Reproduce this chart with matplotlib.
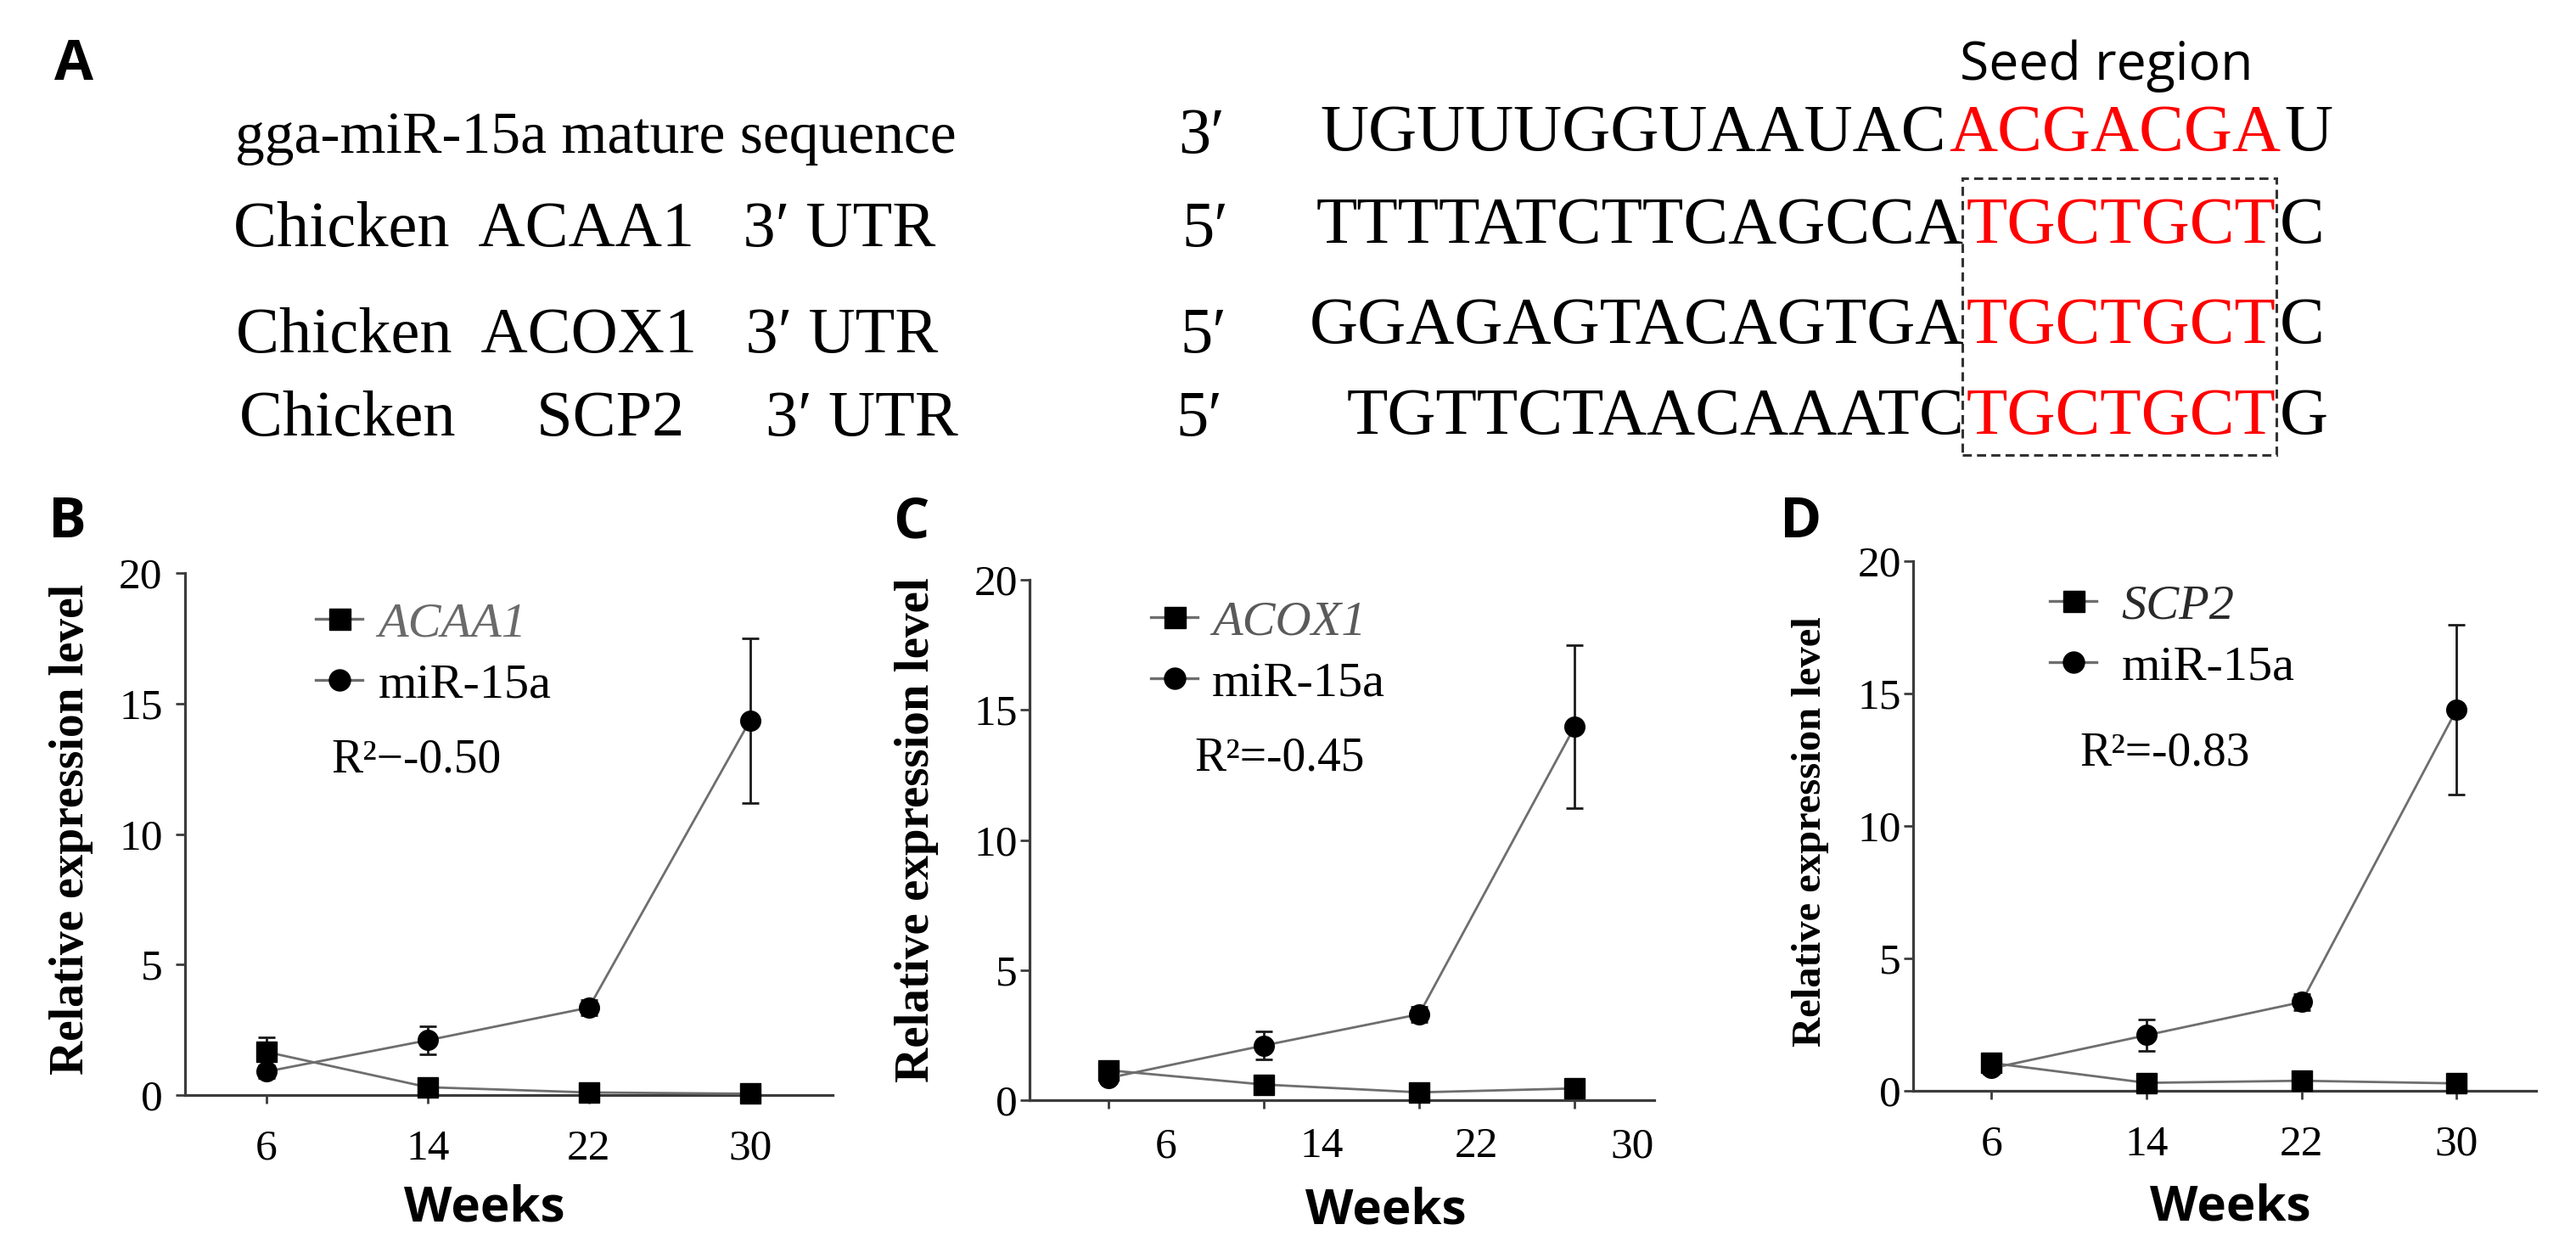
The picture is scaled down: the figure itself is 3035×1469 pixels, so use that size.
import matplotlib
matplotlib.use('Agg')
import matplotlib.pyplot as plt
from matplotlib.transforms import ScaledTranslation
from matplotlib.patches import Rectangle
from matplotlib.lines import Line2D
from matplotlib.font_manager import FontProperties

# ---------------- data ----------------
weeks = [6, 14, 22, 30]
week_labels = ['6', '14', '22', '30']
yticks = [0, 5, 10, 15, 20]

acaa1 = [1.65, 0.3, 0.1, 0.05]
acaa1_err = [0.55, 0.15, 0.08, 0.05]
mir_b = [0.9, 2.1, 3.35, 14.35]
mir_b_err = [0.25, 0.55, 0.3, 3.15]

acox1 = [1.15, 0.6, 0.3, 0.45]
acox1_err = [0.25, 0.2, 0.1, 0.12]
mir_c = [0.85, 2.1, 3.3, 14.35]
mir_c_err = [0.2, 0.55, 0.3, 3.13]

scp2 = [1.05, 0.3, 0.38, 0.28]
scp2_err = [0.2, 0.12, 0.1, 0.1]
mir_d = [0.85, 2.1, 3.35, 14.4]
mir_d_err = [0.2, 0.58, 0.3, 3.2]

r2_texts = ['R²−-0.50', 'R²=-0.45', 'R²=-0.83']
gene_names = ['ACAA1', 'ACOX1', 'SCP2']

seq_labels = ['gga-miR-15a mature sequence',
              'Chicken  ACAA1   3′ UTR',
              'Chicken  ACOX1   3′ UTR',
              'Chicken     SCP2     3′ UTR']
seq_ends = ['3′', '5′', '5′', '5′']
seq_prefix = ['UGUUUGGUAAUAC', 'TTTTATCTTCAGCCA', 'GGAGAGTACAGTGA', 'TGTTCTAACAAATC']
seq_seed = ['ACGACGA', 'TGCTGCT', 'TGCTGCT', 'TGCTGCT']
seq_suffix = ['U', 'C', 'C', 'G']

# ---------------- figure ----------------
W, H, DPI = 3035, 1469, 100
plt.rcParams['font.family'] = ['Liberation Serif', 'DejaVu Serif']
fig = plt.figure(figsize=(W / DPI, H / DPI), dpi=DPI)
fig.patch.set_facecolor('white')

def fx(x):
    return x / W

def fy(y):
    return 1 - y / H

SERIF = ['Liberation Serif', 'DejaVu Serif']
SANS = ['Open Sans', 'DejaVu Sans']

# ---------------- panel A ----------------
fig.text(fx(64), fy(94), 'A', family=SANS, weight='bold', fontsize=48, va='baseline', ha='left')
fig.text(fx(2309), fy(94), 'Seed region', family=SANS, fontsize=45, va='baseline', ha='left')

label_x = [702, 275, 278, 282]
label_ha = ['center', 'left', 'left', 'left']
label_size = [50, 55, 55, 55]
label_base = [180, 290, 415, 513]
end_x = [1388, 1392, 1390, 1385]
seq_base = [177, 286, 404, 511]
split_x = [2293, 2314, 2314, 2314]
SEQ_FS = 57

for i in range(4):
    fig.text(fx(label_x[i]), fy(label_base[i]), seq_labels[i], family=SERIF,
             fontsize=label_size[i], ha=label_ha[i], va='baseline')
    fig.text(fx(end_x[i]), fy(label_base[i]), seq_ends[i], family=SERIF,
             fontsize=55, ha='left', va='baseline')
    fig.text(fx(split_x[i]), fy(seq_base[i]), seq_prefix[i], family=SERIF,
             fontsize=SEQ_FS, ha='right', va='baseline', color='black')

renderer = fig.canvas.get_renderer()
for i in range(4):
    t = fig.text(fx(split_x[i] + 3), fy(seq_base[i]), seq_seed[i], family=SERIF,
                 fontsize=SEQ_FS, ha='left', va='baseline', color='#ff0000')
    bb = t.get_window_extent(renderer=renderer)
    fig.text(bb.x1 / W + 4 / W, fy(seq_base[i]), seq_suffix[i], family=SERIF,
             fontsize=SEQ_FS, ha='left', va='baseline', color='black')

box_x0, box_x1, box_y0, box_y1 = 2312, 2682, 210, 536
fig.add_artist(Rectangle((fx(box_x0), fy(box_y1)), (box_x1 - box_x0) / W, (box_y1 - box_y0) / H,
                         transform=fig.transFigure, fill=False, ec='#333333', lw=2.2,
                         ls=(0, (3.5, 2.0))))

# ---------------- panels B, C, D ----------------
panels = [
    dict(letter='B', letter_x=57, rect=(218, 981, 675, 1290), gene=acaa1, gerr=acaa1_err,
         mir=mir_b, merr=mir_b_err, gcolor='#6a6a6a', r2=r2_texts[0], name=gene_names[0],
         leg=(0.2018, 0.945), htp=0.31, r2xy=(0.2254, 0.618), ylab=(-0.1756, 0.509, 40),
         xlab=(0.4626, -0.2098), ypad=11, xpad=22, xshift=0),
    dict(letter='C', letter_x=1052, rect=(1213, 1949, 683, 1296), gene=acox1, gerr=acox1_err,
         mir=mir_c, merr=mir_c_err, gcolor='#5a5a5a', r2=r2_texts[1], name=gene_names[1],
         leg=(0.1943, 0.962), htp=0.28, r2xy=(0.2636, 0.633), ylab=(-0.1807, 0.52, 41),
         xlab=(0.5707, -0.2055), ypad=2, xpad=16, xshift=68),
    dict(letter='D', letter_x=2097, rect=(2254, 2988, 661, 1285), gene=scp2, gerr=scp2_err,
         mir=mir_d, merr=mir_d_err, gcolor='#2a2a2a', r2=r2_texts[2], name=gene_names[2],
         leg=(0.2193, 0.957), htp=0.5, r2xy=(0.267, 0.614), ylab=(-0.165, 0.489, 35),
         xlab=(0.5095, -0.213), ypad=2, xpad=22, xshift=0),
]

LINE_C = '#6e6e6e'
SPINE_C = '#3c3c3c'

for p in panels:
    x0, x1, y0, y1 = p['rect']
    ax = fig.add_axes([fx(x0), fy(y1), (x1 - x0) / W, (y1 - y0) / H])
    fig.text(fx(p['letter_x']), fy(633), p['letter'], family=SANS, weight='bold',
             fontsize=48, ha='left', va='baseline')

    for vals, err, mk in [(p['gene'], p['gerr'], 's'), (p['mir'], p['merr'], 'o')]:
        cont = ax.errorbar(weeks, vals, yerr=err, fmt='-', color=LINE_C, lw=2.0,
                           marker=mk, ms=17, mfc='black', mec='black',
                           ecolor='#1a1a1a', elinewidth=2.0, capsize=7, capthick=2.0,
                           zorder=4)
        for art in cont.get_children():
            art.set_clip_on(False)

    ax.set_xlim(1.95, 34.1)
    ax.set_ylim(0, 20)
    ax.set_yticks(yticks)
    ax.set_yticklabels([str(v) for v in yticks])
    ax.set_xticks(weeks)
    ax.set_xticklabels(week_labels)
    for s in ['top', 'right']:
        ax.spines[s].set_visible(False)
    for s in ['left', 'bottom']:
        ax.spines[s].set_color(SPINE_C)
        ax.spines[s].set_linewidth(2.3)
    ax.tick_params(axis='y', direction='out', length=8, width=2, color=SPINE_C,
                   labelsize=37, pad=p['ypad'])
    ax.tick_params(axis='x', direction='out', length=7, width=2, color=SPINE_C,
                   labelsize=37, pad=p['xpad'])
    for lbl in ax.get_xticklabels() + ax.get_yticklabels():
        lbl.set_family(SERIF)
    if p['xshift']:
        off = ScaledTranslation(p['xshift'] / DPI, 0, fig.dpi_scale_trans)
        for lbl in ax.get_xticklabels():
            lbl.set_transform(lbl.get_transform() + off)

    ax.set_ylabel('Relative expression level', family=SERIF, weight='bold',
                  fontsize=p['ylab'][2])
    ax.yaxis.set_label_coords(p['ylab'][0], p['ylab'][1])
    ax.yaxis.label.set_va('center')
    ax.yaxis.label.set_ha('center')
    ax.set_xlabel('Weeks', family=SANS, weight='bold', fontsize=42)
    ax.xaxis.set_label_coords(p['xlab'][0], p['xlab'][1] - 0.008)
    ax.xaxis.label.set_va('center')

    h_gene = Line2D([], [], color=LINE_C, lw=2.4, marker='s', ms=18, mfc='black', mec='black')
    h_mir = Line2D([], [], color=LINE_C, lw=2.4, marker='o', ms=18, mfc='black', mec='black')
    leg = ax.legend([h_gene, h_mir], [p['name'], 'miR-15a'], loc='upper left',
                    bbox_to_anchor=p['leg'], frameon=False,
                    prop=FontProperties(family=SERIF, size=42),
                    handlelength=0.95, handletextpad=p['htp'], labelspacing=0.33,
                    borderpad=0, borderaxespad=0)
    txts = leg.get_texts()
    txts[0].set_style('italic')
    txts[0].set_color(p['gcolor'])

    ax.text(p['r2xy'][0], p['r2xy'][1], p['r2'], transform=ax.transAxes, family=SERIF,
            fontsize=40, ha='left', va='baseline')

fig.savefig('out.png', dpi=DPI, facecolor='white')
